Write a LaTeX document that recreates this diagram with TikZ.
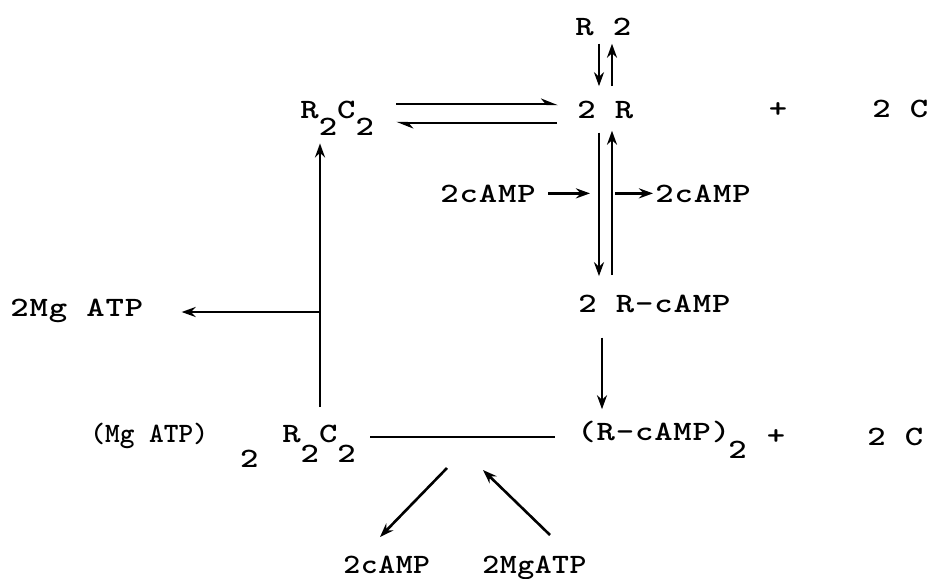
\documentclass[tikz,border=0pt]{standalone}
\usepackage{fontspec}
\usetikzlibrary{positioning, arrows.meta, calc}

\newfontfamily\twfont{lmmonolt10-bold}[Extension=.otf, FakeStretch=1.25, LetterSpace=3]
\newfontfamily\twmfont{lmmonolt10-bold}[Extension=.otf, FakeStretch=1.15, LetterSpace=2]
\newfontfamily\twnfont{lmmonolt10-bold}[Extension=.otf, LetterSpace=0]

\tikzset{
  tw/.style={font=\fontsize{14}{16}\twfont, inner sep=0pt, anchor=base west},
  twm/.style={font=\fontsize{14}{16}\twmfont, inner sep=0pt, anchor=base west},
  arr/.style={-{Stealth[length=7pt,width=5pt]}, line width=1.3pt},
  harp/.style={-{Stealth[length=7pt,width=5.5pt,harpoon]}, line width=1.3pt},
}
\newcommand\dn[2][8.5pt]{\raisebox{-#1}{#2}}

\begin{document}
\begin{tikzpicture}[x=0.5pt, y=-0.5pt]
\useasboundingbox (0,0) rectangle (928,579);

% top row
\node[tw] (rtwo) at (575,35) {R 2};
\node[tw] (rc) at (300,118) {R\dn{2}C\dn{2}};
\node[tw] (twor) at (577,118) {2 R};
\node[tw, anchor=center] (plusa) at (778,110) {+};
\node[tw] (twoca) at (872,117) {2 C};

% cAMP in/out
\node[tw] (campin) at (440,202) {2cAMP};
\node[tw] (campout) at (655,202) {2cAMP};
\node[tw] (rcamp) at (578,312) {2 R-cAMP};
\node[tw] (mgout) at (10,316) {2Mg ATP};

% bottom row
\node[tw] (mgrc) at (90,442) {{\twnfont(Mg ATP)}\hspace{16pt}\dn[12.5pt]{2}\hspace{12pt}R\dn[10pt]{2}C\dn[10pt]{2}};
\node[tw] (rcd) at (577,440) {(R-cAMP)\hspace{-1pt}\dn[9pt]{2}};
\node[tw, anchor=center] (plusb) at (776,437) {+};
\node[tw] (twocb) at (867,445) {2 C};
\node[twm] (campb) at (343,573) {2cAMP};
\node[twm] (mgatpb) at (482,573) {2MgATP};

% helper coordinates
\coordinate (cd) at (599,0);
\coordinate (cu) at (612,0);
\coordinate (eqhi) at (0,104);
\coordinate (eqlo) at (0,123);
\coordinate (vx) at (320,0);
\coordinate (jn) at (320,312);
\coordinate (cx) at (602,0);
\coordinate (rxn) at (0,437);
\coordinate (rxa) at (447,468);
\coordinate (cmpa) at (380,537);
\coordinate (mgb) at (550,535);
\coordinate (rxb) at (483,470);

% R 2 <-> 2 R
\draw[arr, shorten <=4pt, shorten >=7pt] (rtwo.south -| cd) -- (twor.north -| cd);
\draw[arr, shorten <=7pt, shorten >=4pt] (twor.north -| cu) -- (rtwo.south -| cu);

% R2C2 <-> 2 R
\draw[harp, shorten <=11pt, shorten >=9.5pt] (rc.east |- eqhi) -- (twor.west |- eqhi);
\draw[harp, shorten <=10pt, shorten >=11pt] (twor.west |- eqlo) -- (rc.east |- eqlo);

% 2 R <-> 2 R-cAMP
\draw[arr, shorten <=7pt, shorten >=9pt] (twor.south -| cd) -- (rcamp.north -| cd);
\draw[arr, shorten <=9.5pt, shorten >=6pt] (rcamp.north -| cu) -- (twor.south -| cu);
\draw[arr, shorten <=6pt, shorten >=4.5pt] (campin.east) -- (campin.east -| cd);
\draw[arr, shorten <=1.5pt, shorten >=1pt] (cu |- campout.west) -- (campout.west);

% 2 R-cAMP -> (R-cAMP)2
\draw[arr, shorten <=12.5pt, shorten >=5.5pt] (rcamp.south -| cx) -- (rcd.north -| cx);

% (Mg ATP)2 R2C2 -> R2C2
\draw[arr, shorten <=7.5pt, shorten >=4pt] (vx |- mgrc.north) -- (vx |- rc.south);
\draw[arr, shorten >=19pt] (jn) -- (mgout.east |- jn);

% reaction line
\draw[line width=1pt, shorten <=7pt, shorten >=11pt] (mgrc.east |- rxn) -- (rcd.west |- rxn);
\draw[arr] (rxa) -- (cmpa);
\draw[arr] (mgb) -- (rxb);
\end{tikzpicture}
\end{document}
